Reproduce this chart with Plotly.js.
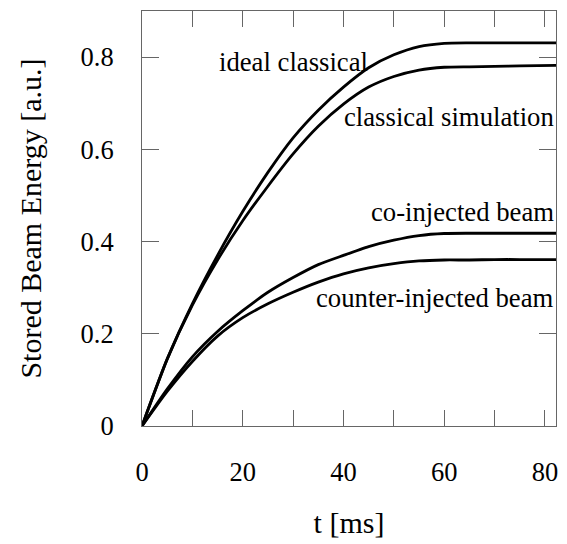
<!DOCTYPE html>
<html>
<head>
<meta charset="utf-8">
<script src="https://cdn.plot.ly/plotly-3.0.1.min.js"></script>
</head>
<body style="margin:0">
<div id="chart"></div>
<script>
// time axis [ms]
const t = [0, 5, 10, 15, 20, 25, 30, 35, 40, 45, 50, 55, 60, 65, 70, 75, 82.2];
// stored beam energy [a.u.]
const idealClassical = [0, 0.145, 0.265, 0.37, 0.465, 0.55, 0.625, 0.685, 0.735, 0.777, 0.805, 0.823, 0.830, 0.831, 0.831, 0.831, 0.831];
const classicalSimulation = [0, 0.145, 0.262, 0.36, 0.445, 0.52, 0.59, 0.65, 0.698, 0.735, 0.758, 0.772, 0.778, 0.779, 0.780, 0.781, 0.782];
const coInjected = [0, 0.08, 0.15, 0.205, 0.25, 0.29, 0.322, 0.35, 0.37, 0.389, 0.403, 0.413, 0.4175, 0.418, 0.418, 0.418, 0.418];
const counterInjected = [0, 0.075, 0.14, 0.195, 0.235, 0.265, 0.29, 0.312, 0.33, 0.343, 0.352, 0.358, 0.360, 0.360, 0.361, 0.361, 0.361];
const seriesNames = ["ideal classical", "classical simulation", "co-injected beam", "counter-injected beam"];
const xTickVals = [0, 20, 40, 60, 80];
const yTickVals = [0, 0.2, 0.4, 0.6, 0.8];
const yTickText = ["0", "0.2", "0.4", "0.6", "0.8"];

const FONT = "Times New Roman";
const all = [idealClassical, classicalSimulation, coInjected, counterInjected];
const traces = all.map((ys, i) => ({
  x: t, y: ys, type: "scatter", mode: "lines", name: seriesNames[i],
  line: {color: "#000", width: 2.8, shape: "spline", smoothing: 0.6},
  showlegend: false, hoverinfo: "skip"
}));

const ANN = 26.7;
const layout = {
  width: 567, height: 544,
  margin: {l: 142, r: 11, t: 11, b: 118},
  paper_bgcolor: "#fff", plot_bgcolor: "#fff",
  font: {family: FONT, size: 26, color: "#000"},
  showlegend: false,
  xaxis: {
    range: [0, 82.2], tickvals: xTickVals, ticktext: xTickVals.map(String),
    ticks: "inside", ticklen: 16, tickcolor: "#666", tickwidth: 1,
    minor: {dtick: 10, tick0: 0, ticks: "inside", ticklen: 16, tickcolor: "#666", tickwidth: 1, showgrid: false},
    showgrid: false, zeroline: false, showline: true, linecolor: "#666", linewidth: 1, mirror: "allticks",
    ticklabelstandoff: 22, tickfont: {family: FONT, size: 26.5, color: "#000"},
    title: {text: "t [ms]", font: {family: FONT, size: 30, color: "#000"}, standoff: 26}
  },
  yaxis: {
    range: [0, 0.9], tickvals: yTickVals, ticktext: yTickText,
    ticks: "inside", ticklen: 17, tickcolor: "#666", tickwidth: 1,
    showgrid: false, zeroline: false, showline: true, linecolor: "#666", linewidth: 1, mirror: "allticks",
    ticklabelstandoff: 22, tickfont: {family: FONT, size: 26.5, color: "#000"},
    title: {text: "Stored Beam Energy [a.u.]", font: {family: FONT, size: 30, color: "#000"}, standoff: 30}
  },
  annotations: [
    {text: seriesNames[0], x: 30, y: 0.789, xref: "x", yref: "y", showarrow: false, xanchor: "center", yanchor: "middle", font: {family: FONT, size: ANN, color: "#000"}},
    {text: seriesNames[1], x: 1, y: 0.670, xref: "paper", yref: "y", showarrow: false, xanchor: "right", yanchor: "middle", font: {family: FONT, size: ANN, color: "#000"}},
    {text: seriesNames[2], x: 1, y: 0.464, xref: "paper", yref: "y", showarrow: false, xanchor: "right", yanchor: "middle", font: {family: FONT, size: ANN, color: "#000"}},
    {text: seriesNames[3], x: 1, y: 0.277, xref: "paper", yref: "y", showarrow: false, xanchor: "right", yanchor: "middle", font: {family: FONT, size: ANN, color: "#000"}}
  ]
};
Plotly.newPlot("chart", traces, layout, {displayModeBar: false});
</script>
</body>
</html>
